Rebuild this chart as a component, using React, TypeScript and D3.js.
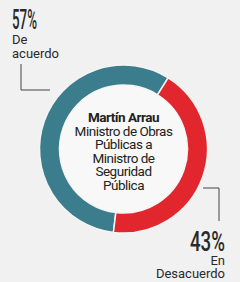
import React from 'react';
import * as d3 from 'd3';

const categories = ['De acuerdo', 'En Desacuerdo'];
const values = [57, 43];
const colors = ['#3b7d8d', '#e2262d'];
const centerLines = ['Ministro de Obras', 'Públicas a', 'Ministro de', 'Seguridad', 'Pública'];
const title = 'Martín Arrau';

const W = 240;
const H = 282;

export default function App() {
  const cx = 123.5;
  const cy = 149;
  const outer = 84;
  const inner = 64;

  // red slice starts ~32deg clockwise from top
  const offset = 0.56 - (values[0] / 100) * 2 * Math.PI;
  const pie = d3.pie<number>().sort(null).startAngle(offset).endAngle(offset + 2 * Math.PI);
  const arcs = pie(values);
  const arc = d3.arc<d3.PieArcDatum<number>>().innerRadius(inner).outerRadius(outer);

  const font = { fontFamily: 'Roboto, "DejaVu Sans Condensed", sans-serif' };

  return (
    <svg width={W} height={H} style={{ position: 'fixed', left: 0, top: 0, background: '#f1f1f1' }}>
      <rect width={W} height={H} fill="#f1f1f1" />
      <g transform={`translate(${cx},${cy})`}>
        <circle r={inner} fill="#f8f8f8" />
        {arcs.map((a, i) => (
          <path key={categories[i]} d={arc(a) ?? ''} fill={colors[i]} stroke="#f4f4f4" strokeWidth={1.5} />
        ))}
        <text textAnchor="middle" fill="#222" style={font} fontSize={13.5} letterSpacing={-0.5}>
          <tspan x={0} y={-27} fontWeight="bold">{title}</tspan>
          {centerLines.map((l, i) => (
            <tspan key={i} x={0} y={-13.5 + i * 13.5}>{l}</tspan>
          ))}
        </text>
      </g>

      {/* left label */}
      <polyline points="21,64 21,90 50,90" fill="none" stroke="#444" strokeWidth={1} />
      <text x={12} y={29} fill="#2a2a2a" style={font} fontSize={27} fontWeight={500} textLength={25} lengthAdjust="spacingAndGlyphs">
        {values[0]}%
      </text>
      <text fill="#2a2a2a" style={font} fontSize={13}>
        <tspan x={12} y={44}>De</tspan>
        <tspan x={12} y={57.5}>acuerdo</tspan>
      </text>

      {/* right label */}
      <polyline points="203,188 219,188 219,221" fill="none" stroke="#444" strokeWidth={1} />
      <text x={225} y={251} textAnchor="end" fill="#2a2a2a" style={font} fontSize={27} fontWeight={500} textLength={35} lengthAdjust="spacingAndGlyphs">
        {values[1]}%
      </text>
      <text fill="#2a2a2a" style={font} fontSize={13} textAnchor="end">
        <tspan x={225} y={265}>En</tspan>
        <tspan x={225} y={278}>Desacuerdo</tspan>
      </text>
    </svg>
  );
}
